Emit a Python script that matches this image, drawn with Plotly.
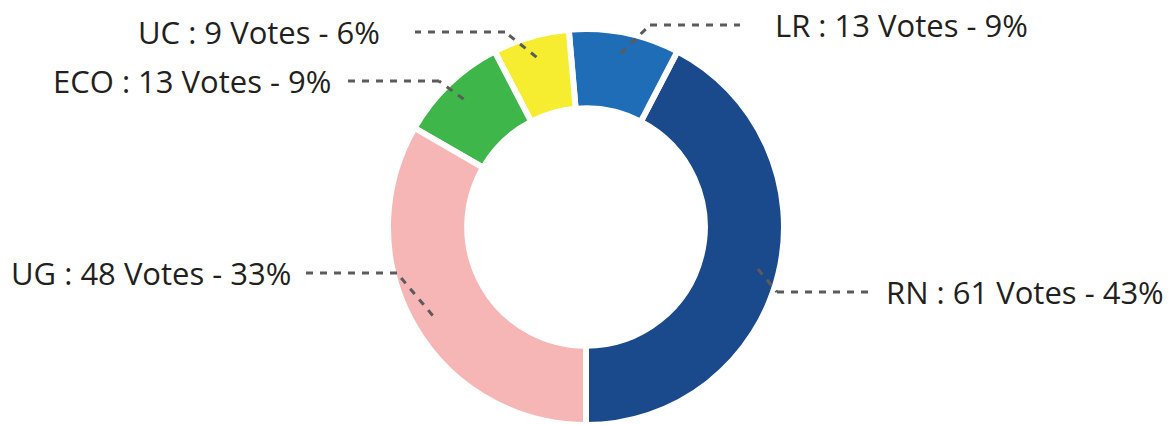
import math
import plotly.graph_objects as go

# ---- data ----
parties = ["RN", "LR", "UC", "ECO", "UG"]
votes = [61, 13, 9, 13, 48]
percents = [43, 9, 6, 9, 33]
colors = ["#1b4a8c", "#1f6cb7", "#f6ed30", "#3fb64a", "#f7b6b6"]

# ---- layout (pixels) ----
W, H = 1169, 425
CX, CY, R = 586, 227, 198          # pie centre / radius in px
START_R = 177                        # where leader lines begin
# elbow point, end of horizontal segment, text anchor x, side
label_layout = {
    "RN":  dict(ex=777, ey=292, hx=873, tx=884, side="right"),
    "LR":  dict(ex=650, ey=25,  hx=740, tx=773, side="right"),
    "UC":  dict(ex=505, ey=32,  hx=415, tx=382, side="left"),
    "ECO": dict(ex=439, ey=81,  hx=345, tx=333, side="left"),
    "UG":  dict(ex=397, ey=273, hx=305, tx=293, side="left"),
}

def px(x):
    return x / W

def py(y):
    return 1 - y / H

total = sum(votes)
# first slice (RN) runs counter-clockwise from 6 o'clock
rotation = 180 - 360 * votes[0] / total

fig = go.Figure(go.Pie(
    labels=parties,
    values=votes,
    sort=False,
    direction="counterclockwise",
    rotation=rotation,
    hole=0.60,
    marker=dict(colors=colors, line=dict(color="white", width=6)),
    textinfo="none",
    hoverinfo="label+value+percent",
    showlegend=False,
    domain=dict(x=[(CX - R) / W, (CX + R) / W], y=[0, 2 * R / H]),
))

cum = 0
shapes = []
annotations = []
for name, v, p in zip(parties, votes, percents):
    theta = math.radians(180 - 360 * (cum + v / 2) / total)
    cum += v
    sx = CX + START_R * math.sin(theta)
    sy = CY - START_R * math.cos(theta)
    L = label_layout[name]
    line_style = dict(color="#5b5b5b", width=3, dash="7px,7px")
    shapes.append(dict(type="line", xref="paper", yref="paper",
                       x0=px(sx), y0=py(sy), x1=px(L["ex"]), y1=py(L["ey"]),
                       line=line_style))
    shapes.append(dict(type="line", xref="paper", yref="paper",
                       x0=px(L["ex"]), y0=py(L["ey"]), x1=px(L["hx"]), y1=py(L["ey"]),
                       line=line_style))
    annotations.append(dict(
        x=px(L["tx"]), y=py(L["ey"]), xref="paper", yref="paper",
        text=f"{name} : {v} Votes - {p}%",
        showarrow=False,
        xanchor="left" if L["side"] == "right" else "right",
        yanchor="middle",
        font=dict(family="Open Sans", size=31, color="#231f20"),
    ))

fig.update_layout(
    width=W, height=H,
    margin=dict(l=0, r=0, t=0, b=0),
    paper_bgcolor="white",
    plot_bgcolor="white",
    shapes=shapes,
    annotations=annotations,
)

fig.write_html(
    "out.html",
    config={"displayModeBar": False},
    post_script="document.body.style.margin='0';document.body.style.overflow='hidden';",
)
